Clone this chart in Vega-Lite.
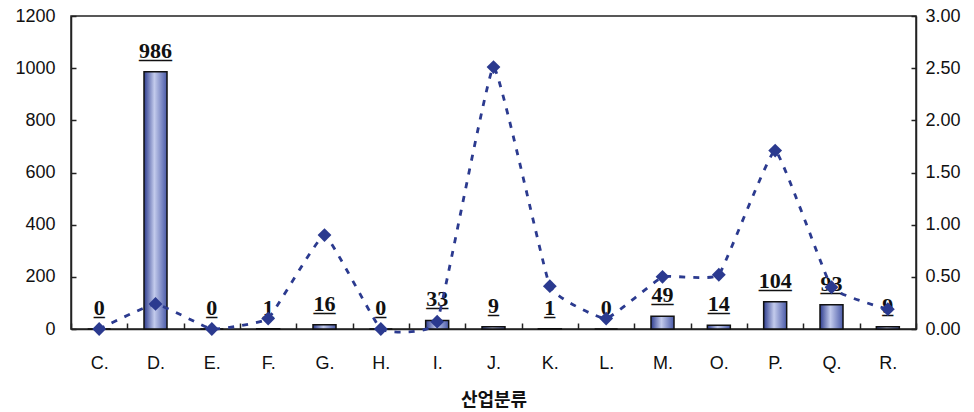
{
  "$schema": "https://vega.github.io/schema/vega-lite/v6.json",
  "autosize": "none",
  "padding": {"left": 71, "top": 16, "right": 58, "bottom": 83},
  "width": 845,
  "height": 313,
  "background": "white",
  "config": {
    "view": {"stroke": "#222222", "strokeWidth": 1.5},
    "font": "Liberation Sans",
    "axis": {"labelFont": "Liberation Sans", "labelFontSize": 18, "labelColor": "#111111", "domainColor": "#222222", "tickColor": "#222222", "domainWidth": 1.5, "tickWidth": 1.5, "grid": false}
  },
  "data": {
    "values": [
      {"cat": "C.", "count": 0, "ratio": 0.0},
      {"cat": "D.", "count": 986, "ratio": 0.24},
      {"cat": "E.", "count": 0, "ratio": 0.0},
      {"cat": "F.", "count": 1, "ratio": 0.1},
      {"cat": "G.", "count": 16, "ratio": 0.9},
      {"cat": "H.", "count": 0, "ratio": 0.0},
      {"cat": "I.", "count": 33, "ratio": 0.07},
      {"cat": "J.", "count": 9, "ratio": 2.51},
      {"cat": "K.", "count": 1, "ratio": 0.41},
      {"cat": "L.", "count": 0, "ratio": 0.1},
      {"cat": "M.", "count": 49, "ratio": 0.5},
      {"cat": "O.", "count": 14, "ratio": 0.52},
      {"cat": "P.", "count": 104, "ratio": 1.71},
      {"cat": "Q.", "count": 93, "ratio": 0.4},
      {"cat": "R.", "count": 9, "ratio": 0.19}
    ]
  },
  "encoding": {
    "x": {
      "field": "cat", "type": "nominal", "sort": null,
      "scale": {"paddingInner": 0, "paddingOuter": 0},
      "axis": {"title": "산업분류", "titleFont": "Noto Sans CJK KR", "titleFontSize": 18, "titleFontWeight": "bold", "titleColor": "#111111", "titlePadding": 19, "labelAngle": 0, "labelPadding": 31, "tickBand": "extent", "tickSize": -6}
    }
  },
  "layer": [
    {
      "layer": [
        {
          "mark": {"type": "bar", "size": 23, "stroke": "#111111", "strokeWidth": 1.5,
            "color": {"gradient": "linear", "x1": 0, "y1": 0, "x2": 1, "y2": 0,
              "stops": [{"offset": 0, "color": "#2e3d8f"}, {"offset": 0.45, "color": "#c3cbec"}, {"offset": 1, "color": "#4a5aa8"}]}},
          "encoding": {
            "y": {"field": "count", "type": "quantitative",
              "scale": {"domain": [0, 1200]},
              "axis": {"title": null, "format": "d", "values": [0, 200, 400, 600, 800, 1000, 1200], "tickSize": -5, "labelPadding": 21}}
          }
        },
        {
          "mark": {"type": "text", "font": "Liberation Serif", "fontSize": 22, "fontWeight": "bold", "dy": -14, "baseline": "alphabetic", "color": "#111111"},
          "encoding": {"y": {"field": "count", "type": "quantitative"}, "text": {"field": "count", "type": "quantitative"}}
        },
        {
          "transform": [{"calculate": "pad('', length(toString(datum.count)), '_')", "as": "under"}],
          "mark": {"type": "text", "font": "Liberation Serif", "fontSize": 22, "fontWeight": "bold", "dy": -14, "baseline": "alphabetic", "color": "#111111"},
          "encoding": {"y": {"field": "count", "type": "quantitative"}, "text": {"field": "under", "type": "nominal"}}
        }
      ]
    },
    {
      "layer": [
        {
          "mark": {"type": "line", "interpolate": "cardinal", "tension": 0.7, "color": "#2b3a8f", "strokeWidth": 2.8, "strokeDash": [6, 8]},
          "encoding": {
            "y": {"field": "ratio", "type": "quantitative",
              "scale": {"domain": [0, 3]},
              "axis": {"orient": "right", "title": null, "format": ".2f", "values": [0, 0.5, 1, 1.5, 2, 2.5, 3], "tickSize": -5, "labelPadding": 14}}
          }
        },
        {
          "mark": {"type": "point", "shape": "diamond", "filled": true, "size": 190, "color": "#2b3a8f", "opacity": 1},
          "encoding": {"y": {"field": "ratio", "type": "quantitative"}}
        }
      ]
    }
  ],
  "resolve": {"scale": {"y": "independent"}}
}
